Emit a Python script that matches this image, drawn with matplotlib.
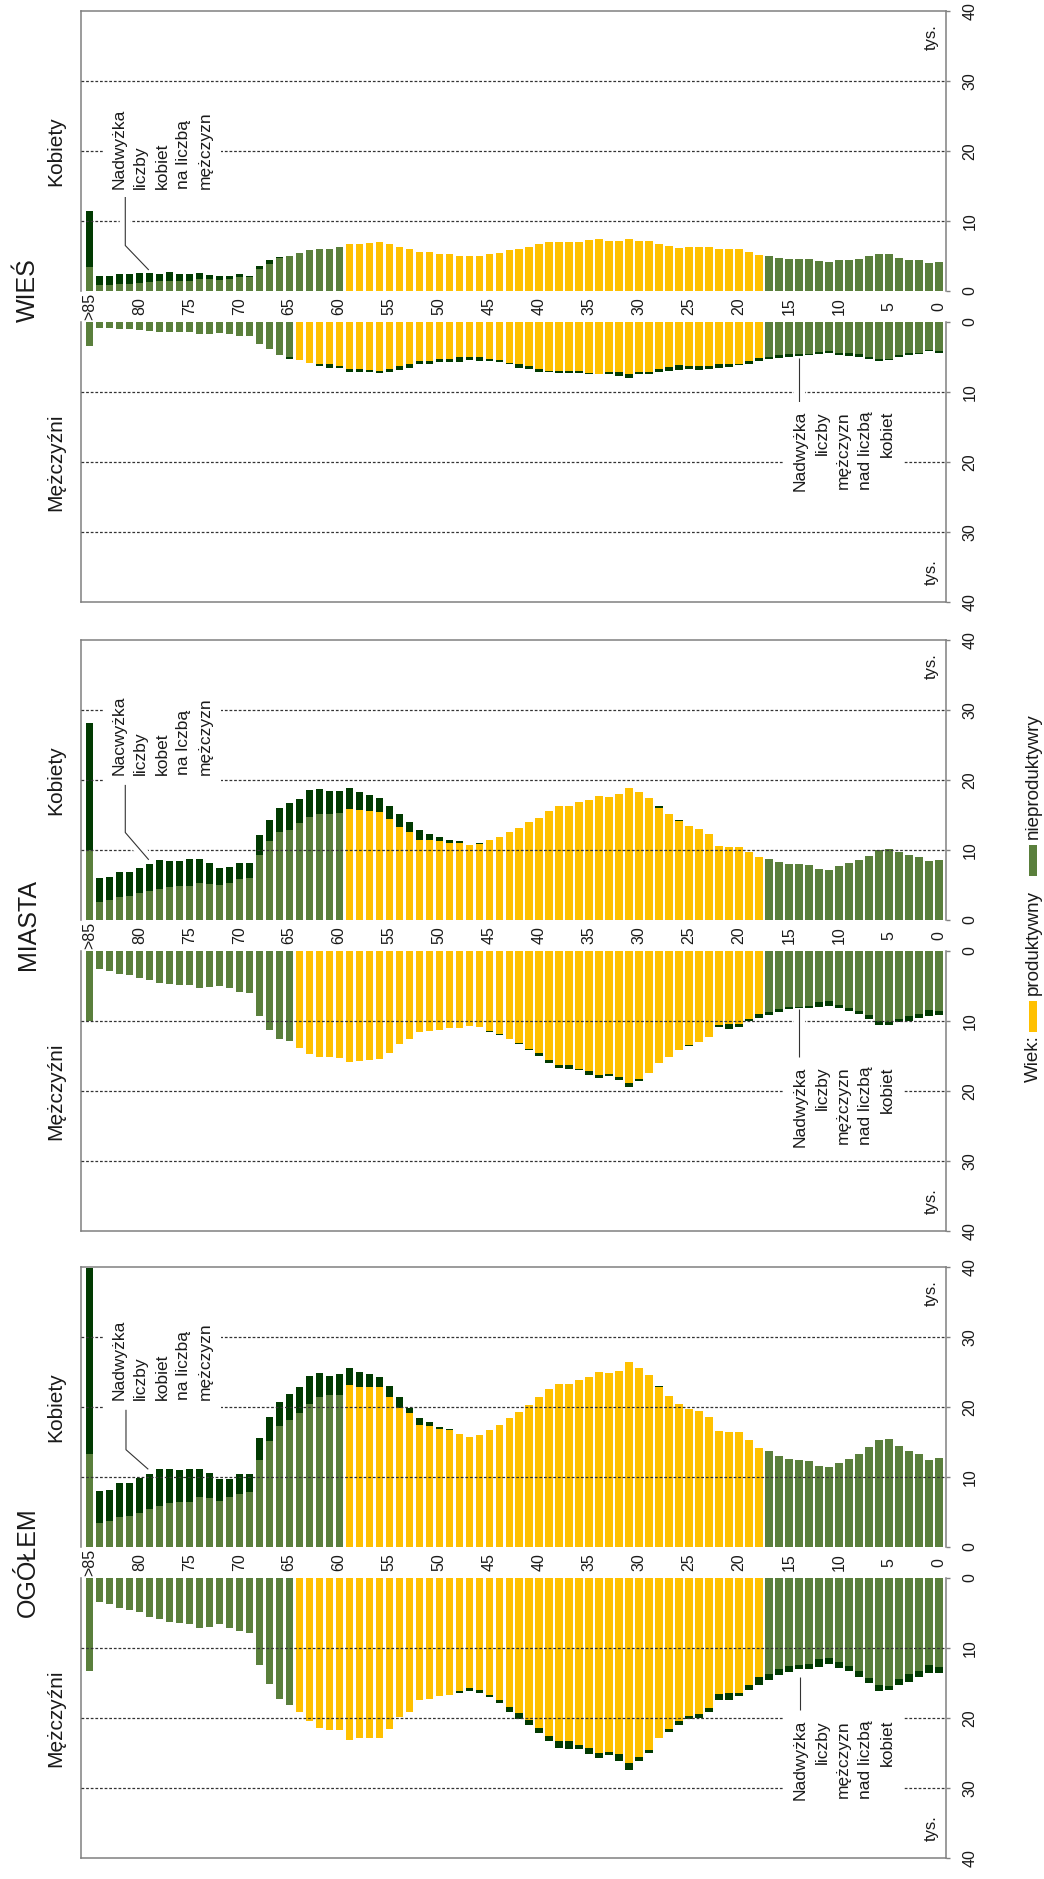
import numpy as np
import matplotlib
matplotlib.use("Agg")
import matplotlib.pyplot as plt
from matplotlib import patheffects as pe
from matplotlib.patches import Rectangle
from matplotlib.transforms import blended_transform_factory

plt.rcParams['font.family'] = ['Liberation Sans', 'DejaVu Sans']

# ---------------- data (thousands, index = age 0..85, 85 = ">85") ----------------
AGES = list(range(86))
AGE_TICKS = [85, 80, 75, 70, 65, 60, 55, 50, 45, 40, 35, 30, 25, 20, 15, 10, 5, 0]
AGE_TICK_LABELS = ['>85'] + [str(a) for a in AGE_TICKS[1:]]
VALUE_TICKS = [0, 10, 20, 30, 40]
VALUE_TICK_LABELS = ['0', '10', '20', '30', '40']
PRODUCTIVE_WOMEN = (18, 59)
PRODUCTIVE_MEN = (18, 64)

women_ogolem = [12.74, 12.46, 13.31, 13.69, 14.46, 15.41, 15.22, 14.22, 13.22, 12.60,
                11.98, 11.41, 11.55, 12.27, 12.46, 12.51, 12.98, 13.69, 14.17, 15.22,
                16.45, 16.40, 16.60, 18.54, 19.40, 19.78, 20.45, 21.54, 23.01, 24.58,
                25.53, 26.39, 25.15, 24.82, 24.97, 24.30, 23.82, 23.30, 23.30, 22.54,
                21.40, 20.30, 19.26, 18.45, 17.40, 16.70, 16.00, 15.70, 16.20, 16.80,
                17.20, 17.90, 18.40, 19.90, 21.40, 23.00, 24.30, 24.70, 25.00, 25.60,
                24.70, 24.50, 24.80, 24.40, 22.80, 21.80, 20.70, 18.60, 15.60, 10.40,
                10.40, 9.70, 9.70, 10.60, 11.20, 11.20, 11.00, 11.20, 11.10, 10.50,
                9.90, 9.20, 9.20, 8.20, 8.00, 39.80]
men_ogolem = [13.6, 13.5, 14.2, 14.8, 15.3, 16.0, 16.2, 15.0, 14.1, 13.3,
              12.8, 12.3, 12.7, 13.0, 13.0, 13.4, 13.9, 14.5, 15.3, 16.0,
              16.8, 17.4, 17.4, 19.1, 20.0, 20.2, 21.0, 22.0, 22.9, 25.0,
              26.2, 27.4, 26.2, 25.3, 25.7, 25.2, 24.4, 24.45, 24.3, 23.35,
              22.1, 20.95, 20.1, 19.1, 17.9, 17.0, 16.4, 16.2, 16.5, 16.7,
              16.8, 17.3, 17.4, 19.1, 19.9, 21.5, 22.8, 22.8, 22.8, 23.1,
              21.7, 21.7, 21.4, 20.4, 19.2, 18.1, 17.3, 15.1, 12.4, 7.9,
              7.6, 7.1, 6.6, 7.0, 7.1, 6.5, 6.4, 6.3, 5.9, 5.5,
              4.8, 4.5, 4.3, 3.7, 3.4, 13.3]

women_miasta = [8.57, 8.40, 8.97, 9.31, 9.66, 10.11, 9.94, 9.20, 8.51, 8.17,
                7.66, 7.20, 7.26, 7.83, 7.94, 8.00, 8.23, 8.69, 8.97, 9.66,
                10.46, 10.46, 10.63, 12.23, 13.03, 13.49, 14.29, 15.09, 16.23, 17.43,
                18.34, 18.91, 18.00, 17.60, 17.71, 17.14, 16.91, 16.29, 16.34, 15.60,
                14.57, 14.00, 13.14, 12.57, 11.89, 11.43, 11.00, 10.70, 11.30, 11.50,
                11.90, 12.30, 12.80, 14.00, 15.10, 16.30, 17.40, 17.90, 18.30, 18.90,
                18.50, 18.40, 18.70, 18.60, 17.30, 16.70, 16.00, 14.30, 12.20, 8.20,
                8.10, 7.60, 7.50, 8.20, 8.70, 8.70, 8.50, 8.50, 8.60, 8.00,
                7.50, 6.90, 6.90, 6.10, 6.00, 28.20]
men_miasta = [9.2, 9.3, 9.55, 9.95, 10.2, 10.5, 10.6, 9.7, 9.0, 8.6,
              8.2, 7.8, 7.95, 8.2, 8.1, 8.3, 8.75, 9.15, 9.55, 10.0,
              10.9, 11.2, 10.9, 12.3, 13.0, 13.5, 14.2, 15.1, 16.0, 17.4,
              18.6, 19.4, 18.4, 17.8, 18.1, 17.7, 17.0, 16.8, 16.7, 16.0,
              15.0, 14.1, 13.3, 12.6, 12.0, 11.5, 10.9, 10.7, 11.0, 11.0,
              11.3, 11.4, 11.5, 12.6, 13.3, 14.5, 15.4, 15.6, 15.7, 15.9,
              15.3, 15.1, 15.2, 14.7, 13.8, 12.9, 12.6, 11.3, 9.3, 6.0,
              5.8, 5.3, 5.0, 5.2, 5.3, 4.9, 4.8, 4.7, 4.5, 4.2,
              3.8, 3.4, 3.3, 2.9, 2.6, 10.0]

women_wies = [4.21, 4.04, 4.38, 4.38, 4.72, 5.22, 5.22, 5.00, 4.55, 4.50,
              4.38, 4.21, 4.33, 4.55, 4.55, 4.60, 4.72, 4.94, 5.17, 5.56,
              6.00, 5.96, 6.07, 6.30, 6.35, 6.30, 6.18, 6.40, 6.74, 7.19,
              7.19, 7.47, 7.13, 7.19, 7.36, 7.25, 6.97, 7.00, 6.97, 6.97,
              6.74, 6.35, 6.07, 5.84, 5.50, 5.34, 5.06, 5.00, 5.00, 5.28,
              5.34, 5.56, 5.62, 5.96, 6.30, 6.74, 6.97, 6.85, 6.74, 6.74,
              6.30, 6.07, 6.07, 5.84, 5.40, 5.06, 4.90, 4.40, 3.50, 2.20,
              2.40, 2.10, 2.10, 2.25, 2.50, 2.50, 2.50, 2.70, 2.50, 2.60,
              2.50, 2.40, 2.50, 2.10, 2.10, 11.40]
men_wies = [4.38, 4.20, 4.60, 4.77, 5.06, 5.45, 5.57, 5.23, 5.06, 4.83,
            4.66, 4.49, 4.60, 4.77, 4.89, 4.94, 5.11, 5.34, 5.57, 5.97,
            6.08, 6.36, 6.60, 6.76, 6.80, 6.65, 6.80, 7.05, 7.10, 7.40,
            7.50, 7.95, 7.67, 7.44, 7.44, 7.40, 7.27, 7.33, 7.27, 7.20,
            7.10, 6.70, 6.53, 5.97, 5.68, 5.60, 5.54, 5.50, 5.66, 5.70,
            5.77, 6.00, 6.05, 6.56, 6.80, 7.10, 7.35, 7.20, 7.10, 7.10,
            6.56, 6.60, 6.33, 5.90, 5.50, 5.26, 4.70, 3.90, 3.20, 2.04,
            1.98, 1.70, 1.60, 1.70, 1.70, 1.47, 1.47, 1.47, 1.40, 1.25,
            1.10, 1.00, 1.00, 0.85, 0.85, 3.40]

PANEL_NAMES = ['OGÓŁEM', 'MIASTA', 'WIEŚ']
PANEL_DATA = {
    'OGÓŁEM': (women_ogolem, men_ogolem),
    'MIASTA': (women_miasta, men_miasta),
    'WIEŚ': (women_wies, men_wies),
}

W_TEXT = {
    'OGÓŁEM': "Nadwyżka\nliczby\nkobiet\nna liczbą\nmężczyzn",
    'MIASTA': "Nacwyżka\nliczby\nkobet\nna lczbą\nmężczyzn",
    'WIEŚ': "Nadwyżka\nliczby\nkobiet\nna liczbą\nmężczyzn",
}
M_TEXT = "Nadwyżka\nliczby\nmężczyzn\nnad liczbą\nkobiet"

# ---------------- styling / layout ----------------
YELLOW = '#FFC000'
GREEN = '#5A7F3C'
DARK = '#013A01'
SPINE = '#808080'
GRIDC = '#333333'
TXT = '#1a1a1a'
BAR_W = 0.73

FS_TICK = 11.5
FS_ANN = 12.5
FS_SIDE = 15
FS_TITLE = 18
FS_LEG = 13.5
FS_TYS = 12
ANN_LS = 1.55

W_PX, H_PX = 1044, 1879
AX_LEFT, AX_RIGHT = 81, 946
HALF_H, GAP = 280, 31
PANEL_TOP = {'WIEŚ': 11, 'MIASTA': 640, 'OGÓŁEM': 1267}
TITLE_Y = {'WIEŚ': 290, 'MIASTA': 924, 'OGÓŁEM': 1562}
TITLE_X = 28
XLIM = (85.83, -0.70)

# annotation placement (data coords of each half)
ANNOT = {
    'OGÓŁEM': dict(wt=(82.8, 21.0), wl=[(81.33, 19.6), (81.33, 13.9), (79.1, 11.1)],
                   mt=(14.6, 20.3), ml=[(13.9, 14.1), (13.9, 18.9)]),
    'MIASTA': dict(wt=(82.8, 20.7), wl=[(81.4, 19.3), (81.4, 12.5), (79.05, 8.6)],
                   mt=(14.6, 16.5), ml=[(14.0, 8.3), (14.0, 15.1)]),
    'WIEŚ': dict(wt=(82.8, 14.6), wl=[(81.4, 13.5), (81.4, 6.5), (79.05, 3.0)],
                 mt=(14.6, 12.7), ml=[(14.0, 5.15), (14.0, 11.6)]),
}

fig = plt.figure(figsize=(W_PX / 100, H_PX / 100), dpi=100)
fig.patch.set_facecolor('white')


def rect(top, h):
    return [AX_LEFT / W_PX, 1 - (top + h) / H_PX, (AX_RIGHT - AX_LEFT) / W_PX, h / H_PX]


def draw_half(ax, vals, other, prod, is_men):
    vals = np.asarray(vals, float)
    other = np.asarray(other, float)
    ages = np.asarray(AGES)
    common = np.minimum(vals, other)
    surplus = np.clip(vals - other, 0, None)
    is_prod = (ages >= prod[0]) & (ages <= prod[1])
    base_cols = [YELLOW if p else GREEN for p in is_prod]
    ax.bar(ages, common, width=BAR_W, color=base_cols, linewidth=0, zorder=2)
    ax.bar(ages, surplus, bottom=common, width=BAR_W, color=DARK, linewidth=0, zorder=2)
    ax.set_xlim(*XLIM)
    if is_men:
        ax.set_ylim(40, 0)
    else:
        ax.set_ylim(0, 40)
    for v in (10, 20, 30):
        ax.axhline(v, color=GRIDC, lw=0.9, dashes=(2.2, 1.5), zorder=3)
    ax.set_xticks([])
    ax.yaxis.tick_right()
    ax.set_yticks(VALUE_TICKS)
    ax.set_yticklabels(VALUE_TICK_LABELS, rotation=90, va='center', fontsize=FS_TICK, color=TXT)
    ax.tick_params(axis='y', direction='out', length=3, width=1, color=SPINE, pad=9)
    for s in ax.spines.values():
        s.set_color(SPINE)
        s.set_linewidth(1.1)
    if is_men:
        ax.spines['top'].set_visible(False)
    else:
        ax.spines['bottom'].set_visible(False)
    ax.set_facecolor('none')


halo = [pe.Stroke(linewidth=8, foreground='white', capstyle='butt'), pe.Normal()]

for name in PANEL_NAMES:
    T = PANEL_TOP[name]
    women, men = PANEL_DATA[name]
    axw = fig.add_axes(rect(T, HALF_H))
    axm = fig.add_axes(rect(T + HALF_H + GAP, HALF_H))
    draw_half(axw, women, men, PRODUCTIVE_WOMEN, False)
    draw_half(axm, men, women, PRODUCTIVE_MEN, True)

    # age labels in the gap
    tr = blended_transform_factory(axw.transData, axw.transAxes)
    for a, lab in zip(AGE_TICKS, AGE_TICK_LABELS):
        axw.text(a, -(GAP / 2) / HALF_H, lab, transform=tr, rotation=90,
                 ha='center', va='center', fontsize=FS_TICK, color=TXT, clip_on=False)

    # "tys."
    axw.text(0.983, 0.905, 'tys.', transform=axw.transAxes, rotation=90,
             ha='center', va='center', fontsize=FS_TYS, color=TXT)
    axm.text(0.983, 0.105, 'tys.', transform=axm.transAxes, rotation=90,
             ha='center', va='center', fontsize=FS_TYS, color=TXT)

    # annotations
    an = ANNOT[name]
    axw.text(an['wt'][0], an['wt'][1], W_TEXT[name], rotation=90, rotation_mode='anchor',
             ha='left', va='top', multialignment='left', fontsize=FS_ANN, linespacing=ANN_LS,
             color=TXT, zorder=6,
             bbox=dict(boxstyle='square,pad=0.5', fc='white', ec='none'))
    xs, ys = zip(*an['wl'])
    axw.plot(xs, ys, color='#333333', lw=0.8, zorder=5, solid_capstyle='butt',
             path_effects=halo)
    axm.text(an['mt'][0], an['mt'][1], M_TEXT, rotation=90, rotation_mode='anchor',
             ha='right', va='top', multialignment='right', fontsize=FS_ANN, linespacing=ANN_LS,
             color=TXT, zorder=6,
             bbox=dict(boxstyle='square,pad=0.5', fc='white', ec='none'))
    xs, ys = zip(*an['ml'])
    axm.plot(xs, ys, color='#333333', lw=0.8, zorder=5, solid_capstyle='butt',
             path_effects=halo)

    # side labels & title
    fig.text(56 / W_PX, 1 - (T + HALF_H / 2) / H_PX, 'Kobiety', rotation=90,
             ha='center', va='center', fontsize=FS_SIDE, color=TXT)
    fig.text(56 / W_PX, 1 - (T + HALF_H + GAP + HALF_H / 2) / H_PX, 'Mężczyźni', rotation=90,
             ha='center', va='center', fontsize=FS_SIDE, color=TXT)
    fig.text(TITLE_X / W_PX, 1 - TITLE_Y[name] / H_PX, name, rotation=90,
             ha='center', va='center', fontsize=FS_TITLE, color=TXT)

# legend (rotated)
LEG_X = 1033
fig.text(LEG_X / W_PX, 1 - 1082 / H_PX, 'Wiek:', rotation=90, rotation_mode='anchor',
         ha='left', va='center', fontsize=FS_LEG, color=TXT)
fig.patches.append(Rectangle(((LEG_X - 4) / W_PX, 1 - 1032 / H_PX), 8 / W_PX, 31 / H_PX,
                             transform=fig.transFigure, facecolor=YELLOW, edgecolor='none'))
fig.text(LEG_X / W_PX, 1 - 995 / H_PX, 'produktywny', rotation=90, rotation_mode='anchor',
         ha='left', va='center', fontsize=FS_LEG, color=TXT)
fig.patches.append(Rectangle(((LEG_X - 4) / W_PX, 1 - 876 / H_PX), 8 / W_PX, 31 / H_PX,
                             transform=fig.transFigure, facecolor=GREEN, edgecolor='none'))
fig.text(LEG_X / W_PX, 1 - 839 / H_PX, 'nieproduktywry', rotation=90, rotation_mode='anchor',
         ha='left', va='center', fontsize=FS_LEG, color=TXT)

fig.savefig('out.png', dpi=100, facecolor='white')
